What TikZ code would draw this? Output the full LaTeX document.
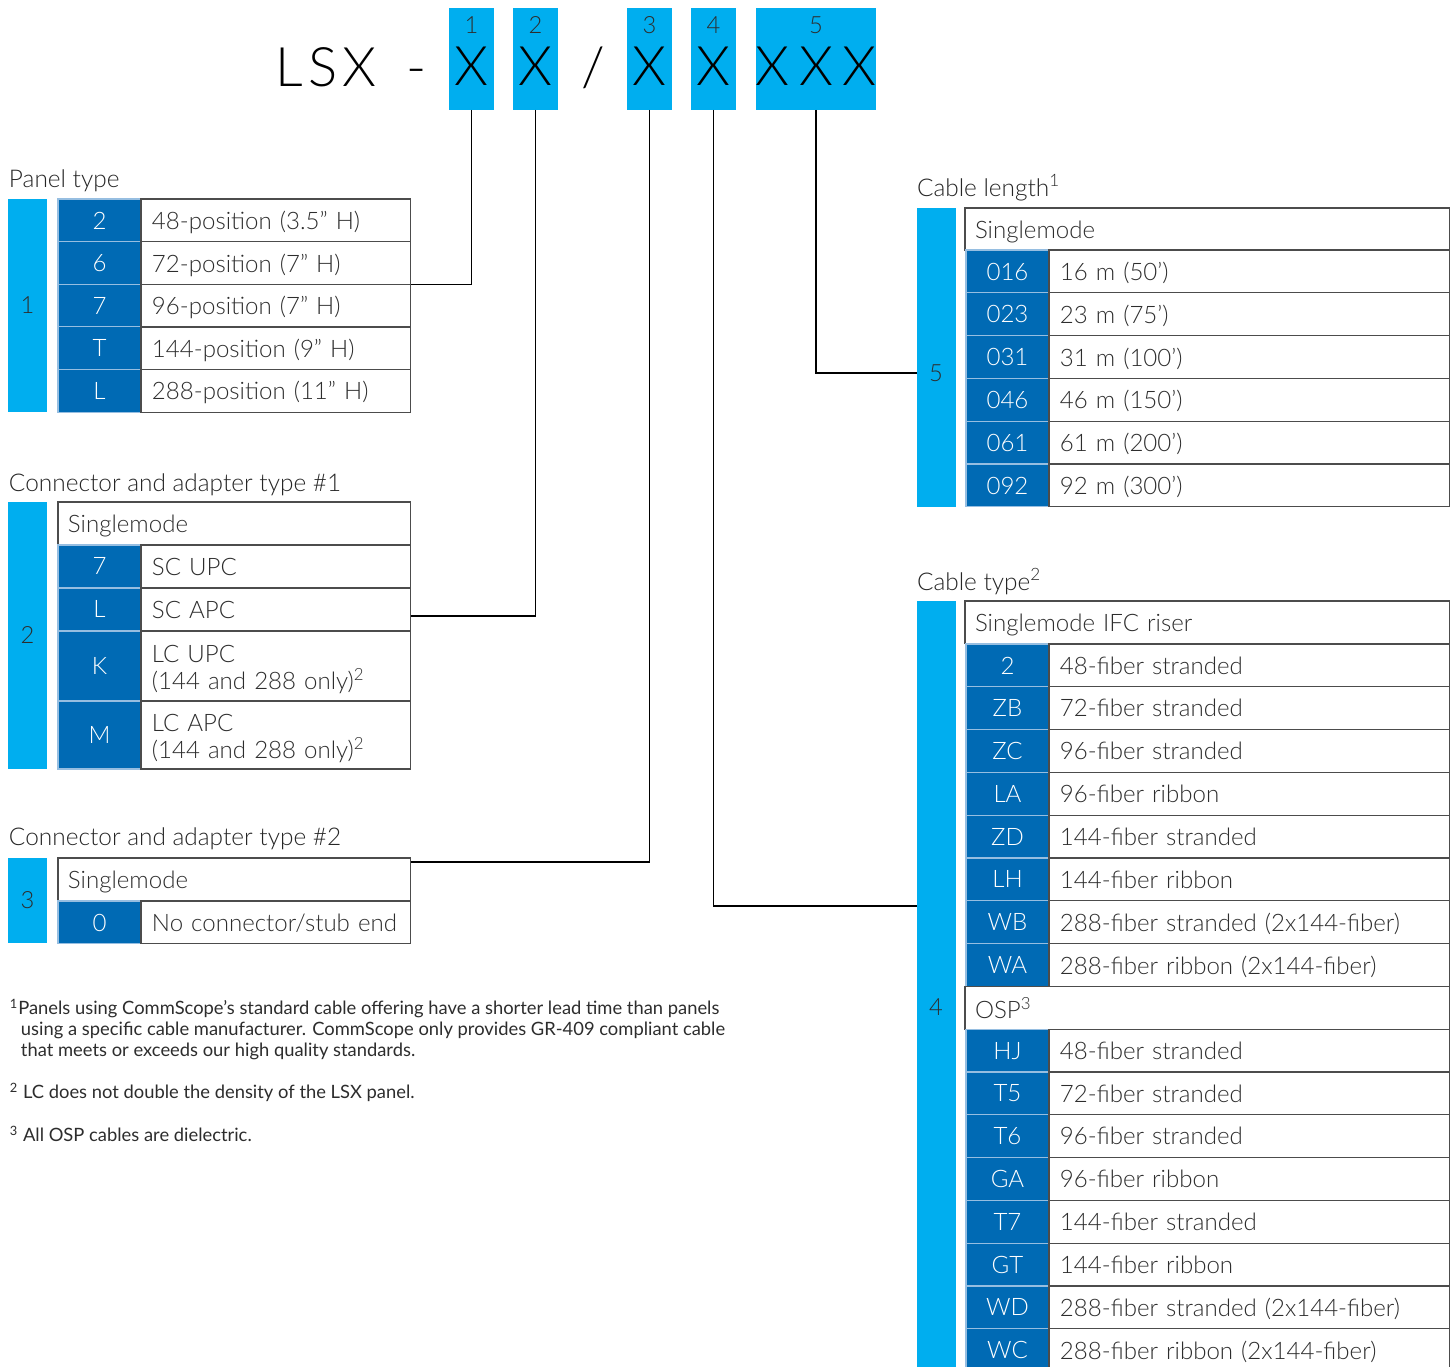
\documentclass[tikz,border=0pt]{standalone}
\usepackage{fontspec}
\IfFontExistsTF{Lato Light}{\setmainfont{Lato Light}}{\setmainfont{Lato}}
\newfontfamily\notefont{Lato}
\usetikzlibrary{positioning}
\definecolor{csblue}{RGB}{0,174,239}
\definecolor{csdark}{RGB}{0,106,180}
\definecolor{csgrey}{RGB}{45,45,45}
\definecolor{csline}{RGB}{150,190,225}

\begin{document}
\begin{tikzpicture}[
    x=0.02cm, y=-0.02cm,
    every node/.style={inner sep=0pt, outer sep=0pt, text=csgrey},
    tag/.style={fill=csblue, anchor=north west, minimum height=2.04cm},
    bar/.style={fill=csblue, anchor=north west, minimum width=0.78cm},
    num/.style={font=\fontsize{13.5}{15}\selectfont},
    bigx/.style={anchor=base, font=\fontsize{31}{34}\selectfont, text=black},
    title/.style={anchor=base west, text=black!85, font=\fontsize{13.9}{15}\selectfont},
    code/.style={fill=csdark, draw=csline, line width=0.6pt, anchor=north west, minimum width=1.66cm, minimum height=0.856cm, text depth=0pt, text=white, font=\fontsize{13.7}{15.3}\selectfont},
    desc/.style={draw=black!70, line width=0.6pt, anchor=west, minimum height=0.856cm, inner xsep=0.22cm, text width=#1, text depth=0pt, align=left, font=\fontsize{13.7}{15.3}\selectfont},
    twoline/.style={minimum height=#1, text depth=13.4pt},
    head/.style={draw=black!70, line width=0.6pt, anchor=north west, minimum height=0.856cm, inner xsep=0.2cm, text width=#1, text depth=0pt, align=left, font=\fontsize{13.7}{15.3}\selectfont},
    conn/.style={draw=black, line width=0.7pt},
    note/.style={anchor=north west, align=left, font=\notefont\fontsize{10.45}{11.9}\selectfont}
  ]
  \path[use as bounding box, fill=white] (0,0) rectangle (1453,1366);

  % part number
  \node[bigx] (lsx) at (326,86) {L\hspace{0.1cm}S\hspace{0.1cm}X};
  \node[bigx] (dash) at (417,86) {-};
  \node[bigx] (slash) at (593,86) {/};
  \foreach \n/\x/\w/\t in {1/449/45/X, 2/513/45/X, 3/627/45/X, 4/691/45/X, 5/756/120/{X\hspace{0.2cm}X\hspace{0.2cm}X}}{
    \node[tag, minimum width=\w*0.02cm] (n\n) at (\x,8) {};
    \node[num, anchor=base] (d\n) at ([yshift=-0.52cm]n\n.north) {\n};
    \node[bigx] (x\n) at ([yshift=-1.56cm]n\n.north) {\t};
  }

  % Panel type
  \node[title] (t1) at (9,187) {Panel type};
  \node[bar, minimum height=4.26cm] (bar1) at (8,199) {};
  \node[num] (b1) at (bar1.center) {1};
  \foreach \c/\d [count=\i] in {2/48-position (3.5” H), 6/72-position (7” H), 7/96-position (7” H), T/144-position (9” H), L/288-position (11” H)}{
    \node[code] (pc\i) at (58,{199+(\i-1)*42.6}) {\c};
    \node[desc=4.96cm, right=0pt of pc\i] (pd\i) {\d};
  }

  % Connector and adapter type #1
  \node[title] (t2) at (9,491) {Connector and adapter type \#1};
  \node[bar, minimum height=5.34cm] (bar2) at (8,502) {};
  \node[num] (b2) at (bar2.center) {2};
  \node[head=6.66cm] (s1h) at (58,502) {Singlemode};
  \node[code] (s1c1) at (58,545) {7};
  \node[desc=4.96cm, right=0pt of s1c1] (s1d1) {SC UPC};
  \node[code] (s1c2) at (58,588) {L};
  \node[desc=4.96cm, right=0pt of s1c2] (s1d2) {SC APC};
  \node[code, minimum height=1.4cm] (s1c3) at (58,631) {K};
  \node[desc=4.96cm, twoline=1.4cm, right=0pt of s1c3] (s1d3) {LC UPC\\(144 and 288 only)\textsuperscript{2}};
  \node[code, minimum height=1.36cm] (s1c4) at (58,701) {M};
  \node[desc=4.96cm, twoline=1.36cm, right=0pt of s1c4] (s1d4) {LC APC\\(144 and 288 only)\textsuperscript{2}};

  % Connector and adapter type #2
  \node[title] (t3) at (9,845) {Connector and adapter type \#2};
  \node[bar, minimum height=1.7cm] (bar3) at (8,858) {};
  \node[num] (b3) at (bar3.center) {3};
  \node[head=6.66cm] (s2h) at (58,858) {Singlemode};
  \node[code] (s2c1) at (58,901) {0};
  \node[desc=4.96cm, right=0pt of s2c1] (s2d1) {No connector/stub end};

  % footnotes
  \node[note] (f1) at (10,999) {\textsuperscript{1}Panels using CommScope’s standard cable offering have a shorter lead time than panels\\
    \hspace*{0.22cm}using a specific cable manufacturer. CommScope only provides GR-409 compliant cable\\
    \hspace*{0.22cm}that meets or exceeds our high quality standards.};
  \node[note] (f2) at (10,1083) {\textsuperscript{2} LC does not double the density of the LSX panel.};
  \node[note] (f3) at (10,1126) {\textsuperscript{3} All OSP cables are dielectric.};

  % Cable length
  \node[title] (t5) at (917,196) {Cable length\textsuperscript{1}};
  \node[bar, minimum height=5.98cm] (bar5) at (917,208) {};
  \node[num] (b5) at (936,373) {5};
  \node[head=9.3cm] (s5h) at (965,208) {Singlemode};
  \foreach \c/\d [count=\i] in {016/16 m (50’), 023/23 m (75’), 031/31 m (100’), 046/46 m (150’), 061/61 m (200’), 092/92 m (300’)}{
    \node[code] (lc\i) at (966,{250+(\i-1)*42.8}) {\c};
    \node[desc=7.58cm, right=0pt of lc\i] (ld\i) {\d};
  }

  % Cable type
  \node[title] (t4) at (917,590) {Cable type\textsuperscript{2}};
  \node[bar, minimum height=16.24cm] (bar4) at (917,601) {};
  \node[num] (b4) at (936,1007) {4};
  \node[head=9.3cm] (s4h) at (965,601) {Singlemode IFC riser};
  \foreach \c/\d [count=\i] in {2/48-fiber stranded, ZB/72-fiber stranded, ZC/96-fiber stranded, LA/96-fiber ribbon, ZD/144-fiber stranded, LH/144-fiber ribbon, WB/288-fiber stranded (2x144-fiber), WA/288-fiber ribbon (2x144-fiber)}{
    \node[code] (ic\i) at (966,{644+(\i-1)*42.8}) {\c};
    \node[desc=7.58cm, right=0pt of ic\i] (id\i) {\d};
  }
  \node[head=9.3cm] (s4o) at (965,986.4) {OSP\textsuperscript{3}};
  \foreach \c/\d [count=\i] in {HJ/48-fiber stranded, T5/72-fiber stranded, T6/96-fiber stranded, GA/96-fiber ribbon, T7/144-fiber stranded, GT/144-fiber ribbon, WD/288-fiber stranded (2x144-fiber), WC/288-fiber ribbon (2x144-fiber)}{
    \node[code] (oc\i) at (966,{1029.2+(\i-1)*42.8}) {\c};
    \node[desc=7.58cm, right=0pt of oc\i] (od\i) {\d};
  }

  % connectors
  \draw[conn] (n1.south) |- (pd2.south east);
  \draw[conn] (n2.south) |- ([yshift=-0.13cm]s1d2.east);
  \draw[conn] (n3.south) |- ([yshift=-0.08cm]s2h.north east);
  \draw[conn] (n4.south) |- ([yshift=-6.1cm]bar4.north west);
  \draw[conn] (n5.south) |- (bar5.west |- b5);
\end{tikzpicture}
\end{document}
